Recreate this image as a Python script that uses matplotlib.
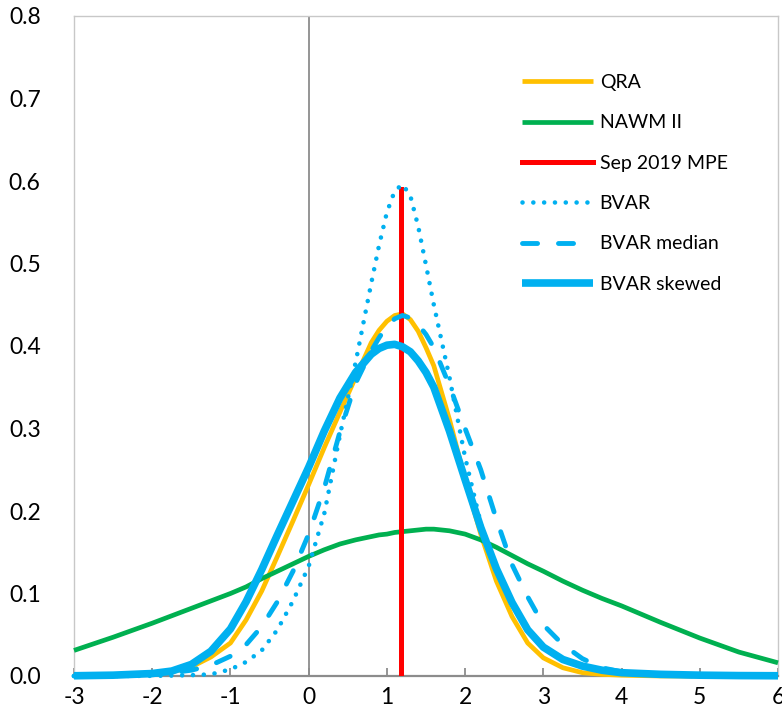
import matplotlib
matplotlib.use("Agg")
import matplotlib.pyplot as plt

plt.rcParams['font.family'] = ['Lato', 'DejaVu Sans']
plt.rcParams['axes.unicode_minus'] = False

x = [-3, -2.5, -2, -1.75, -1.5, -1.25, -1, -0.8, -0.6, -0.4, -0.2, 0,
     0.2, 0.4, 0.6, 0.8, 0.9, 1.0, 1.1, 1.2, 1.3, 1.4, 1.5, 1.6, 1.8,
     2.0, 2.2, 2.4, 2.6, 2.8, 3.0, 3.25, 3.5, 3.75, 4, 4.5, 5, 5.5, 6]

qra = [0.0, 0.0005, 0.002, 0.005, 0.011, 0.023, 0.040, 0.068, 0.103, 0.145,
       0.188, 0.232, 0.277, 0.320, 0.362, 0.404, 0.419, 0.430, 0.437, 0.439,
       0.432, 0.418, 0.398, 0.376, 0.311, 0.238, 0.172, 0.115, 0.072, 0.040,
       0.022, 0.010, 0.004, 0.002, 0.001, 0.0, 0.0, 0.0, 0.0]

nawm = [0.031, 0.047, 0.064, 0.073, 0.082, 0.091, 0.100, 0.108, 0.118, 0.127,
        0.136, 0.145, 0.153, 0.160, 0.165, 0.169, 0.171, 0.172, 0.174, 0.175,
        0.176, 0.177, 0.178, 0.178, 0.176, 0.172, 0.165, 0.156, 0.146, 0.136,
        0.127, 0.115, 0.104, 0.094, 0.085, 0.065, 0.046, 0.029, 0.016]

bvar = [0.0, 0.0, 0.0002, 0.0005, 0.001, 0.002, 0.008, 0.017, 0.031, 0.056,
        0.091, 0.133, 0.197, 0.292, 0.380, 0.476, 0.522, 0.562, 0.588, 0.596,
        0.582, 0.545, 0.498, 0.450, 0.362, 0.265, 0.185, 0.128, 0.087, 0.058,
        0.037, 0.021, 0.012, 0.007, 0.004, 0.001, 0.0, 0.0, 0.0]

bvar_median = [0.0, 0.0005, 0.002, 0.004, 0.007, 0.013, 0.024, 0.038, 0.060, 0.090,
               0.127, 0.172, 0.228, 0.296, 0.355, 0.394, 0.410, 0.424, 0.433, 0.437,
               0.434, 0.426, 0.414, 0.398, 0.352, 0.300, 0.250, 0.190, 0.135, 0.096,
               0.062, 0.038, 0.021, 0.010, 0.005, 0.001, 0.0, 0.0, 0.0]

bvar_skewed = [0.0003, 0.001, 0.003, 0.006, 0.014, 0.030, 0.057, 0.090, 0.129, 0.171,
               0.212, 0.253, 0.297, 0.337, 0.368, 0.390, 0.397, 0.401, 0.402, 0.399,
               0.393, 0.382, 0.368, 0.350, 0.297, 0.238, 0.180, 0.130, 0.089, 0.056,
               0.035, 0.020, 0.012, 0.007, 0.004, 0.002, 0.001, 0.0005, 0.0003]

# Sep 2019 MPE point forecast (vertical line)
mpe_x = 1.18
mpe_top = 0.59

fig = plt.figure(figsize=(7.82, 7.23), dpi=100)
ax = fig.add_axes([74 / 782, 1 - 676 / 723, 704 / 782, 660 / 723])

ax.axvline(0, color='#8c8c8c', lw=1.3, zorder=1)

kw = dict(solid_joinstyle='round', solid_capstyle='butt', clip_on=False)
ax.plot(x, qra, color='#FFC000', lw=3.4, label='QRA', zorder=3, **kw)
ax.plot(x, nawm, color='#00B050', lw=3.4, label='NAWM II', zorder=3, **kw)
ax.plot([mpe_x, mpe_x], [0, mpe_top], color='#FF0000', lw=3.6,
        label='Sep 2019 MPE', zorder=3)
ax.plot(x, bvar, color='#00B0F0', lw=3.3, linestyle=(0, (0.01, 2.35)),
        dash_capstyle='round', label='BVAR', zorder=3, clip_on=False)
ax.plot(x, bvar_median, color='#00B0F0', lw=3.5, linestyle=(0, (3.1, 4.3)),
        dash_capstyle='round', label='BVAR median', zorder=3, clip_on=False)
ax.plot(x, bvar_skewed, color='#00B0F0', lw=5.5, label='BVAR skewed',
        zorder=3, **kw)

ax.set_xlim(-3, 6)
ax.set_ylim(0, 0.8)
ax.set_xticks(range(-3, 7))
ax.set_yticks([i / 10 for i in range(9)])
ax.set_yticklabels([f'{i / 10:.1f}' for i in range(9)])

for side in ['left', 'top', 'right']:
    ax.spines[side].set_color('#c8c8c8')
    ax.spines[side].set_linewidth(1.0)
ax.spines['bottom'].set_color('#8c8c8c')
ax.spines['bottom'].set_linewidth(1.6)

ax.tick_params(axis='x', direction='in', length=6, width=1.3,
               color='#8c8c8c', labelsize=16.5, pad=8)
ax.tick_params(axis='y', length=0, labelsize=16.5, pad=24)

leg = ax.legend(loc='upper left', bbox_to_anchor=(0.637, 0.912),
                frameon=False, fontsize=14, handlelength=3.65,
                handletextpad=0.32, labelspacing=1.2, borderpad=0,
                borderaxespad=0)

fig.savefig('out.png', dpi=100)
